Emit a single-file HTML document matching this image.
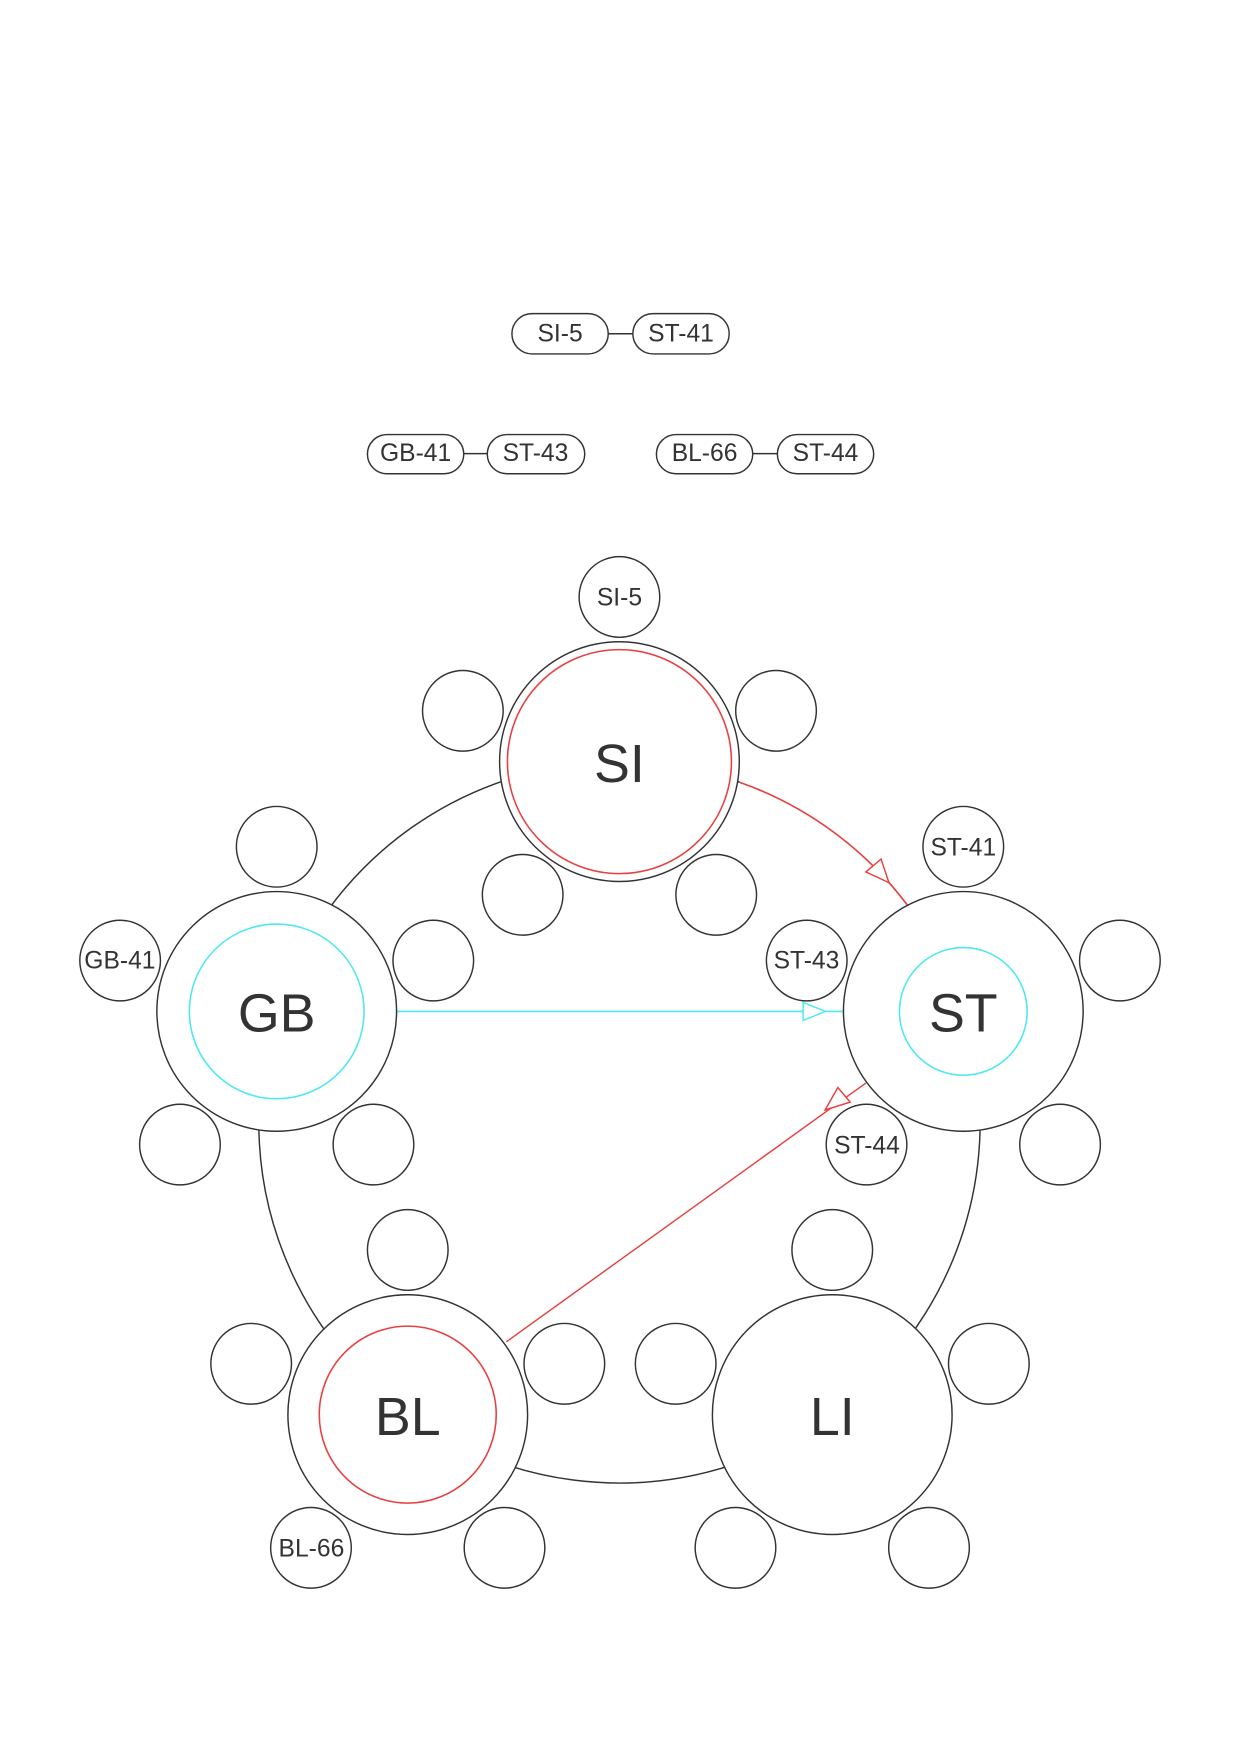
<!DOCTYPE html>
<html><head><meta charset="utf-8"><style>
html,body{margin:0;padding:0;background:#fff;}
svg{display:block;}
text{font-family:"Liberation Sans",Arial,sans-serif;fill:#333;text-anchor:middle;dominant-baseline:central;}
</style></head><body>
<svg width="1240" height="1754" viewBox="0 0 1107 1566" xmlns="http://www.w3.org/2000/svg">
<rect width="1107" height="1566" fill="#fff"/>
<g fill="#fff" stroke="#333" stroke-width="1.3">
<line x1="543" y1="298" x2="565" y2="298"/>
<rect x="457" y="280" width="86" height="36" rx="18"/>
<rect x="565" y="280" width="86" height="36" rx="18"/>
<line x1="414" y1="405" x2="435" y2="405"/>
<rect x="328" y="388" width="86" height="35" rx="17.5"/>
<rect x="435" y="388" width="87" height="35" rx="17.5"/>
<line x1="672" y1="405" x2="694" y2="405"/>
<rect x="586" y="388" width="86" height="35" rx="17.5"/>
<rect x="694" y="388" width="86" height="35" rx="17.5"/>
</g>
<g font-size="22">
<text x="500" y="298">SI-5</text><text x="608" y="298">ST-41</text>
<text x="371" y="405">GB-41</text><text x="478" y="405">ST-43</text>
<text x="629" y="405">BL-66</text><text x="737" y="405">ST-44</text>
</g>
<path d="M810,808 A322,322 0 1,1 660.5,698.5" fill="none" stroke="#333" stroke-width="1.3"/>
<path d="M660.5,698.5 A322,322 0 0,1 810,808" fill="none" stroke="#e84040" stroke-width="1.5"/>
<polygon points="793.6,788 773,778.5 786.6,767" fill="#fff" stroke="#e84040" stroke-width="1.3"/>
<line x1="354" y1="903" x2="753" y2="903" stroke="#4de8f0" stroke-width="1.4"/>
<polygon points="737,903 717,895 717,911" fill="#fff" stroke="#4de8f0" stroke-width="1.3"/>
<g fill="#fff" stroke="#333" stroke-width="1.3">
<circle cx="553" cy="533" r="36"/><circle cx="692.8" cy="634.6" r="36"/><circle cx="639.4" cy="798.9" r="36"/><circle cx="466.6" cy="798.9" r="36"/><circle cx="413.2" cy="634.6" r="36"/>
<circle cx="247" cy="756" r="36"/><circle cx="386.8" cy="857.6" r="36"/><circle cx="333.4" cy="1021.9" r="36"/><circle cx="160.6" cy="1021.9" r="36"/><circle cx="107.2" cy="857.6" r="36"/>
<circle cx="860" cy="756" r="36"/><circle cx="999.8" cy="857.6" r="36"/><circle cx="946.4" cy="1021.9" r="36"/><circle cx="773.6" cy="1021.9" r="36"/><circle cx="720.2" cy="857.6" r="36"/>
<circle cx="364" cy="1116" r="36"/><circle cx="503.8" cy="1217.6" r="36"/><circle cx="450.4" cy="1381.9" r="36"/><circle cx="277.6" cy="1381.9" r="36"/><circle cx="224.2" cy="1217.6" r="36"/>
<circle cx="743" cy="1116" r="36"/><circle cx="882.8" cy="1217.6" r="36"/><circle cx="829.4" cy="1381.9" r="36"/><circle cx="656.6" cy="1381.9" r="36"/><circle cx="603.2" cy="1217.6" r="36"/>
</g>
<g fill="#fff" stroke="#333" stroke-width="1.3">
<circle cx="553" cy="680" r="107"/>
<circle cx="247" cy="903" r="107"/>
<circle cx="860" cy="903" r="107"/>
<circle cx="364" cy="1263" r="107"/>
<circle cx="743" cy="1263" r="107"/>
</g>
<circle cx="553" cy="680" r="100" fill="none" stroke="#e84040" stroke-width="1.4"/>
<circle cx="247" cy="903" r="78" fill="none" stroke="#4de8f0" stroke-width="1.4"/>
<circle cx="860" cy="903" r="57" fill="none" stroke="#4de8f0" stroke-width="1.4"/>
<circle cx="364" cy="1263" r="79" fill="none" stroke="#e84040" stroke-width="1.4"/>
<line x1="452" y1="1198" x2="773" y2="967" stroke="#e84040" stroke-width="1.3"/>
<polygon points="736.6,991 748,971 759,984" fill="#fff" stroke="#e84040" stroke-width="1.3"/>
<g font-size="48">
<text x="553" y="682">SI</text><text x="247" y="905">GB</text><text x="860" y="905">ST</text>
<text x="364" y="1265">BL</text><text x="743" y="1265">LI</text>
</g>
<g font-size="22">
<text x="553" y="534">SI-5</text><text x="860" y="757">ST-41</text>
<text x="720" y="858">ST-43</text><text x="774" y="1023">ST-44</text>
<text x="107" y="858">GB-41</text><text x="278" y="1383">BL-66</text>
</g>
</svg>
</body></html>
